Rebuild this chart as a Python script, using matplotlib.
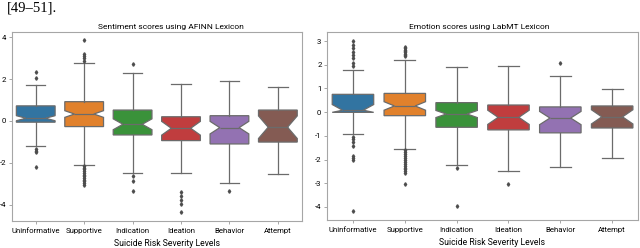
import matplotlib.pyplot as plt

plt.rcParams['font.family'] = ['Roboto', 'DejaVu Sans']
plt.rcParams['axes.unicode_minus'] = False

levels = ['Uninformative', 'Supportive', 'Indication', 'Ideation', 'Behavior', 'Attempt']
colors = ['#3274a1', '#e1812c', '#3a923a', '#c03d3e', '#9372b2', '#845b53']

# AFINN sentiment scores
afinn_med = [0.13, 0.33, -0.16, -0.35, -0.32, -0.30]
afinn_q1 = [-0.06, -0.27, -0.67, -0.94, -1.10, -1.01]
afinn_q3 = [0.72, 0.92, 0.52, 0.20, 0.25, 0.52]
afinn_whislo = [-1.22, -2.10, -2.49, -2.49, -2.97, -2.54]
afinn_whishi = [1.70, 2.78, 2.30, 1.75, 1.92, 1.60]
afinn_cilo = [0.01, 0.17, -0.42, -0.68, -0.62, -0.84]
afinn_cihi = [0.25, 0.49, 0.10, -0.02, -0.02, 0.24]
afinn_fliers = [
    [2.35, 2.03, -1.35, -1.43, -1.49, -2.22],
    [3.86, 3.22, 3.11, 2.99, 2.86, -2.16, -2.24, -2.32, -2.40, -2.48, -2.56,
     -2.64, -2.72, -2.80, -2.88, -2.96, -3.05],
    [2.70, -2.65, -2.89, -3.33],
    [-3.40, -3.57, -3.76, -3.97, -4.37],
    [-3.33],
    [],
]

# LabMT emotion scores
labmt_med = [0.08, 0.26, -0.08, -0.22, -0.25, -0.20]
labmt_q1 = [-0.01, -0.15, -0.64, -0.75, -0.875, -0.67]
labmt_q3 = [0.75, 0.79, 0.40, 0.30, 0.22, 0.26]
labmt_whislo = [-0.92, -1.54, -2.24, -2.49, -2.33, -1.92]
labmt_whishi = [1.76, 2.20, 1.90, 1.96, 1.51, 0.96]
labmt_cilo = [-0.01, 0.08, -0.23, -0.52, -0.53, -0.50]
labmt_cihi = [0.32, 0.44, 0.07, 0.08, 0.03, 0.10]
labmt_fliers = [
    [3.01, 2.83, 2.69, 2.55, 2.42, 2.28, 2.07, 1.93,
     -1.05, -1.15, -1.24, -1.43, -1.85, -1.93, -2.03, -4.17],
    [2.76, 2.70, 2.64, 2.58, 2.52, 2.46, 2.40, 2.35,
     -1.61, -1.70, -1.78, -1.86, -1.94, -2.02, -2.10, -2.18, -2.26,
     -2.34, -2.42, -2.50, -2.58, -3.03],
    [-2.375, -3.95],
    [-3.04],
    [2.07],
    [],
]


def make_stats(med, q1, q3, lo, hi, cilo, cihi, fliers):
    out = []
    for i in range(len(med)):
        out.append(dict(med=med[i], q1=q1[i], q3=q3[i], whislo=lo[i], whishi=hi[i],
                        cilo=cilo[i], cihi=cihi[i], fliers=fliers[i]))
    return out


fig = plt.figure(figsize=(6.4, 2.48), dpi=100)
fig.text(0.011, 0.952, '[49\u201351].', family='Liberation Serif', fontsize=10.5,
         va='baseline', ha='left')

ax1 = fig.add_axes([0.018, 0.109, 0.454, 0.762])
ax2 = fig.add_axes([0.511, 0.113, 0.486, 0.758])

line = '0.42'
panels = [
    (ax1, make_stats(afinn_med, afinn_q1, afinn_q3, afinn_whislo, afinn_whishi,
                     afinn_cilo, afinn_cihi, afinn_fliers),
     'Sentiment scores using AFINN Lexicon', [-4, -2, 0, 2, 4], 0.55, 0.534),
    (ax2, make_stats(labmt_med, labmt_q1, labmt_q3, labmt_whislo, labmt_whishi,
                     labmt_cilo, labmt_cihi, labmt_fliers),
     'Emotion scores using LabMT Lexicon', [-4, -3, -2, -1, 0, 1, 2, 3], 0.49, 0.53),
]

for ax, stats, title, yt, tx, lx in panels:
    bp = ax.bxp(stats, positions=range(len(levels)), widths=0.8, patch_artist=True,
                shownotches=True,
                boxprops=dict(edgecolor=line, linewidth=0.9),
                whiskerprops=dict(color=line, linewidth=0.9),
                capprops=dict(color=line, linewidth=0.9),
                medianprops=dict(color=line, linewidth=0.9),
                flierprops=dict(marker='d', markersize=1.8, markerfacecolor='0.3',
                                markeredgecolor='0.3', linestyle='none'))
    for patch, c in zip(bp['boxes'], colors):
        patch.set_facecolor(c)
    ax.set_xlim(-0.5, len(levels) - 0.5)
    ax.set_xticks(range(len(levels)))
    ax.set_xticklabels(levels)
    ax.set_yticks(yt)
    ax.set_title(title, fontsize=6, pad=2.5, x=tx)
    ax.set_xlabel('Suicide Risk Severity Levels', fontsize=6.2)
    ax.xaxis.set_label_coords(lx, -0.095)
    ax.tick_params(axis='both', labelsize=5.6, length=2, width=0.6, color='0.6', pad=2)
    ax.tick_params(axis='x', pad=3)
    for s in ax.spines.values():
        s.set_color('0.65')
        s.set_linewidth(0.8)

ax1.set_ylim(-4.78, 4.25)
ax2.set_ylim(-4.55, 3.38)

fig.savefig('out.png', dpi=100)
